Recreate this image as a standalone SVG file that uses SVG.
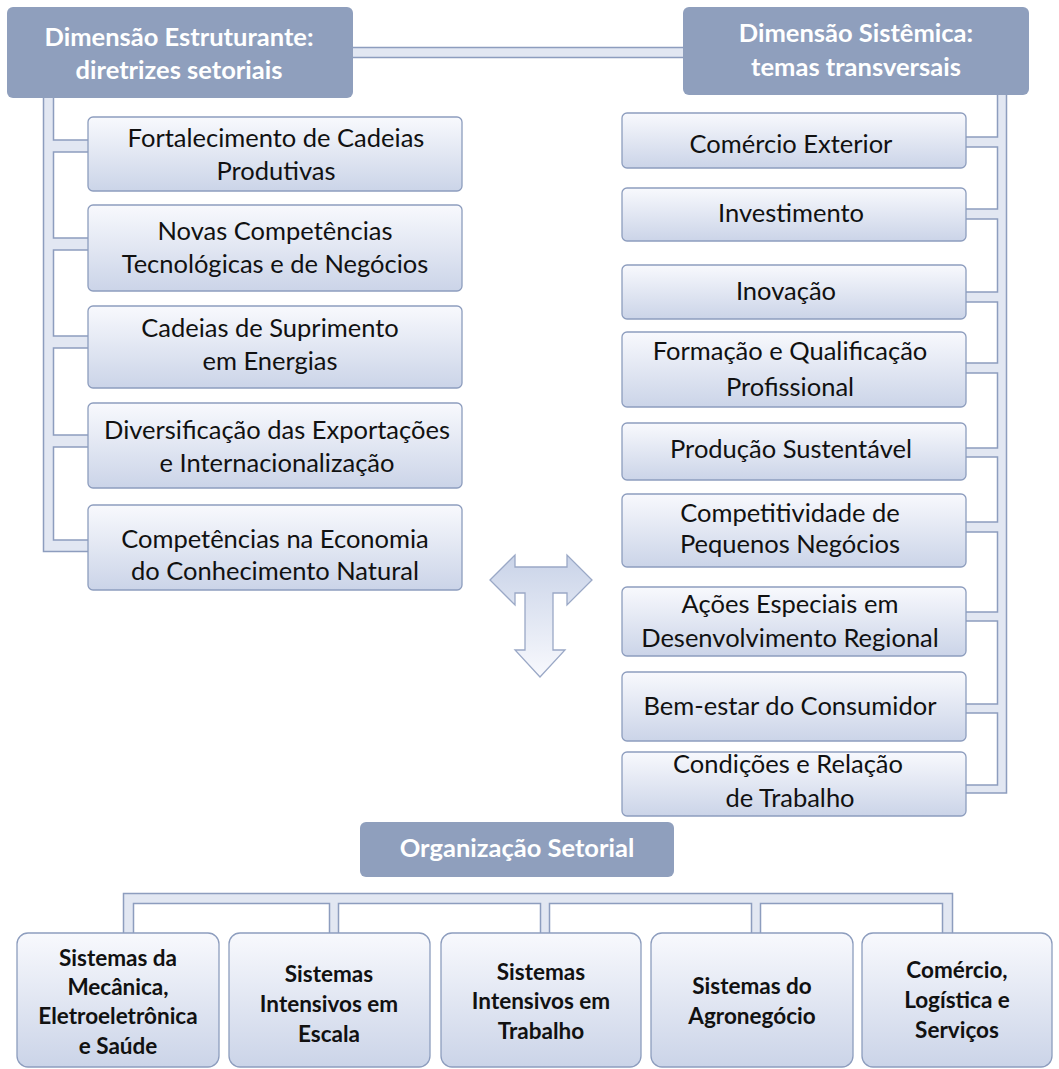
<svg xmlns="http://www.w3.org/2000/svg" width="1059" height="1069" viewBox="0 0 1059 1069">
<defs>
<linearGradient id="boxg" x1="0" y1="0" x2="0" y2="1">
<stop offset="0" stop-color="#f8f9fd"/>
<stop offset="1" stop-color="#cbd4e8"/>
</linearGradient>
<linearGradient id="arrg" x1="0" y1="0" x2="0" y2="1">
<stop offset="0" stop-color="#c9d3e8"/>
<stop offset="1" stop-color="#f8f9fd"/>
</linearGradient>
<style>
.box{fill:url(#boxg);stroke:#8d9dbe;stroke-width:1.3}
.hdr{fill:#8f9fbd}
.pipe{fill:#e2e7f2;stroke:none}
.ln{fill:none;stroke:#8d9dbe;stroke-width:1.5}
.t{font-family:Lato,"Liberation Sans",sans-serif;font-size:25.5px;fill:#111;text-anchor:middle}
.h{font-family:Lato,"Liberation Sans",sans-serif;font-size:25.5px;font-weight:bold;fill:#fff;text-anchor:middle}
.b{font-family:Lato,"Liberation Sans",sans-serif;font-size:22.5px;font-weight:bold;fill:#111;text-anchor:middle}
</style>
</defs>

<g id="connectors">
<rect class="pipe" x="353" y="47.5" width="330" height="10"/>
<path class="ln" d="M353 47.5H683M353 57.5H683"/>
<path class="pipe" d="M43.5 97V551.5H88V540H53.5V447H88V435H53.5V348H88V336H53.5V250H88V238H53.5V152H88V140H53.5V97Z"/>
<path class="ln" d="M43.5 97V551.5H88"/>
<path class="ln" d="M53.5 97V140H88M88 152H53.5V238H88M88 250H53.5V336H88M88 348H53.5V435H88M88 447H53.5V540H88"/>
<path class="pipe" d="M1006.5 95V793H966V785H997.5V713H966V704H997.5V621H966V612H997.5V532H966V522H997.5V457H966V448H997.5V373H966V363H997.5V302H966V292H997.5V219H966V209H997.5V147H966V137H997.5V95Z"/>
<path class="ln" d="M1006.5 95V793H966"/>
<path class="ln" d="M997.5 95V137H966M966 147H997.5V209H966M966 219H997.5V292H966M966 302H997.5V363H966M966 373H997.5V448H966M966 457H997.5V522H966M966 532H997.5V612H966M966 621H997.5V704H966M966 713H997.5V785H966"/>
<path class="pipe" d="M123.5 933V893.5H952.5V933H942.5V903.5H760.5V933H751.5V903.5H549.5V933H540.5V903.5H338.5V933H329.5V903.5H133.5V933Z"/>
<path class="ln" d="M123.5 933V893.5H952.5V933"/>
<path class="ln" d="M133.5 933V903.5H329.5V933M338.5 933V903.5H540.5V933M549.5 933V903.5H751.5V933M760.5 933V903.5H942.5V933"/>
</g>

<g id="arrow">
<polygon points="490,580 515,555 515,567 567,567 567,555 592,580 567,605 567,593 553,593 553,650 565,650 540,677 515,650 525,650 525,593 515,593 515,605" fill="url(#arrg)" stroke="#9aa8c6" stroke-width="1.3"/>
</g>

<g id="hdr-estruturante">
<rect class="hdr" x="7" y="7" width="346" height="91" rx="6"/>
<text class="h" x="179" y="46">Dimensão Estruturante:</text>
<text class="h" x="179" y="79">diretrizes setoriais</text>
</g>
<g id="hdr-sistemica">
<rect class="hdr" x="683" y="7" width="346" height="88" rx="6"/>
<text class="h" x="856" y="42">Dimensão Sistêmica:</text>
<text class="h" x="856" y="76">temas transversais</text>
</g>

<g id="l1"><rect class="box" x="88" y="117" width="374" height="74" rx="5"/>
<text class="t" x="276" y="147">Fortalecimento de Cadeias</text><text class="t" x="276" y="180">Produtivas</text></g>
<g id="l2"><rect class="box" x="88" y="205" width="374" height="86" rx="5"/>
<text class="t" x="275" y="240">Novas Competências</text><text class="t" x="275" y="273">Tecnológicas e de Negócios</text></g>
<g id="l3"><rect class="box" x="88" y="306" width="374" height="82" rx="5"/>
<text class="t" x="270" y="337">Cadeias de Suprimento</text><text class="t" x="270" y="370">em Energias</text></g>
<g id="l4"><rect class="box" x="88" y="403" width="374" height="85" rx="5"/>
<text class="t" x="277" y="439">Diversificação das Exportações</text><text class="t" x="277" y="472">e Internacionalização</text></g>
<g id="l5"><rect class="box" x="88" y="505" width="374" height="85" rx="5"/>
<text class="t" x="275" y="548">Competências na Economia</text><text class="t" x="275" y="580">do Conhecimento Natural</text></g>

<g id="r1"><rect class="box" x="622" y="113" width="344" height="55" rx="5"/>
<text class="t" x="791" y="153">Comércio Exterior</text></g>
<g id="r2"><rect class="box" x="622" y="188" width="344" height="53" rx="5"/>
<text class="t" x="791" y="222">Investimento</text></g>
<g id="r3"><rect class="box" x="622" y="265" width="344" height="54" rx="5"/>
<text class="t" x="786" y="300">Inovação</text></g>
<g id="r4"><rect class="box" x="622" y="332" width="344" height="75" rx="5"/>
<text class="t" x="790" y="360">Formação e Qualificação</text><text class="t" x="790" y="396">Profissional</text></g>
<g id="r5"><rect class="box" x="622" y="423" width="344" height="57" rx="5"/>
<text class="t" x="791" y="458">Produção Sustentável</text></g>
<g id="r6"><rect class="box" x="622" y="494" width="344" height="73" rx="5"/>
<text class="t" x="790" y="522">Competitividade de</text><text class="t" x="790" y="553">Pequenos Negócios</text></g>
<g id="r7"><rect class="box" x="622" y="587" width="344" height="69" rx="5"/>
<text class="t" x="790" y="613">Ações Especiais em</text><text class="t" x="790" y="647">Desenvolvimento Regional</text></g>
<g id="r8"><rect class="box" x="622" y="672" width="344" height="69" rx="5"/>
<text class="t" x="790" y="715">Bem-estar do Consumidor</text></g>
<g id="r9"><rect class="box" x="622" y="752" width="344" height="64" rx="5"/>
<text class="t" x="788" y="773">Condições e Relação</text><text class="t" x="790" y="807">de Trabalho</text></g>

<g id="hdr-org">
<rect class="hdr" x="360" y="822" width="314" height="55" rx="6"/>
<text class="h" x="517" y="857">Organização Setorial</text>
</g>

<g id="b1"><rect class="box" x="17" y="933" width="202" height="134" rx="11"/>
<text class="b" x="118" y="966">Sistemas da</text><text class="b" x="118" y="995">Mecânica,</text><text class="b" x="118" y="1024">Eletroeletrônica</text><text class="b" x="118" y="1054">e Saúde</text></g>
<g id="b2"><rect class="box" x="229" y="933" width="201" height="134" rx="11"/>
<text class="b" x="329" y="982">Sistemas</text><text class="b" x="329" y="1012">Intensivos em</text><text class="b" x="329" y="1042">Escala</text></g>
<g id="b3"><rect class="box" x="441" y="933" width="200" height="134" rx="11"/>
<text class="b" x="541" y="980">Sistemas</text><text class="b" x="541" y="1009">Intensivos em</text><text class="b" x="541" y="1039">Trabalho</text></g>
<g id="b4"><rect class="box" x="651" y="933" width="202" height="134" rx="11"/>
<text class="b" x="752" y="994">Sistemas do</text><text class="b" x="752" y="1024">Agronegócio</text></g>
<g id="b5"><rect class="box" x="862" y="933" width="190" height="134" rx="11"/>
<text class="b" x="957" y="978">Comércio,</text><text class="b" x="957" y="1008">Logística e</text><text class="b" x="957" y="1038">Serviços</text></g>
</svg>
